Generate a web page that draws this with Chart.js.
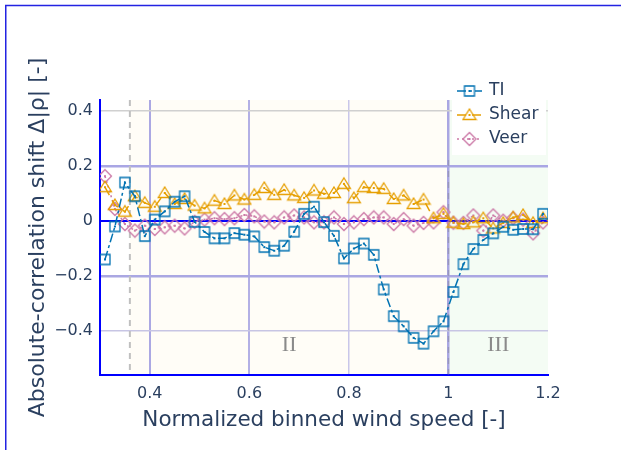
<!DOCTYPE html>
<html>
<head>
<meta charset="utf-8">
<script src="https://cdn.jsdelivr.net/npm/chart.js@4"></script>
<style>
	body { margin: 0; background: #fff; }
	#wrap { position: relative; width: 621px; height: 450px; overflow: hidden; }
</style>
</head>
<body>
<div id="wrap">
	<canvas id="chart" width="621" height="450"></canvas>
</div>
<script>
const xBins = [0.31, 0.33, 0.35, 0.37, 0.39, 0.41, 0.43, 0.45, 0.47, 0.49,
	0.51, 0.53, 0.55, 0.57, 0.59, 0.61, 0.63, 0.65, 0.67, 0.69,
	0.71, 0.73, 0.75, 0.77, 0.79, 0.81, 0.83, 0.85, 0.87, 0.89,
	0.91, 0.93, 0.95, 0.97, 0.99, 1.01, 1.03, 1.05, 1.07, 1.09,
	1.11, 1.13, 1.15, 1.17, 1.19];
const ti = [-0.14, -0.02, 0.14, 0.09, -0.055, 0.005, 0.035, 0.07, 0.09, -0.003,
	-0.04, -0.063, -0.063, -0.044, -0.05, -0.056, -0.095, -0.108, -0.09, -0.039,
	0.026, 0.052, -0.004, -0.054, -0.136, -0.1, -0.082, -0.123, -0.249, -0.346,
	-0.383, -0.425, -0.446, -0.401, -0.365, -0.258, -0.157, -0.102, -0.069, -0.045,
	-0.021, -0.032, -0.029, -0.03, 0.026];
const shear = [0.123, 0.058, 0.034, 0.09, 0.066, 0.052, 0.102, 0.062, 0.08, 0.056,
	0.046, 0.074, 0.062, 0.093, 0.078, 0.095, 0.12, 0.095, 0.113, 0.093,
	0.084, 0.111, 0.099, 0.102, 0.135, 0.083, 0.123, 0.12, 0.117, 0.08,
	0.093, 0.062, 0.078, 0.01, 0.026, -0.006, -0.011, -0.005, 0.01, -0.027,
	-0.007, 0.013, 0.022, -0.007, 0.01];
const veer = [0.163, 0.044, -0.011, -0.035, -0.017, -0.029, -0.023, -0.017, -0.027, -0.003,
	0.005, 0.01, 0.007, 0.01, 0.022, 0.017, -0.002, -0.005, 0.013, 0.02,
	0.013, -0.005, -0.005, 0.013, -0.011, -0.005, 0.007, 0.013, 0.013, -0.011,
	0.007, -0.017, -0.007, -0.005, 0.032, -0.006, -0.007, 0.02, -0.035, 0.02,
	0.001, 0.01, 0.005, -0.045, -0.005];
const xTicks = [0.4, 0.6, 0.8, 1, 1.2];
const yTicks = [-0.4, -0.2, 0, 0.2, 0.4];
const regionII = [0.36, 1.0];
const regionIII = [1.0, 1.2];

const FONT = "'DejaVu Sans', Verdana, sans-serif";
const TXT = "#2a3f5f";

// open marker with a centre dot
function marker(shape, color) {
	const s = 16, m = s / 2;
	const c = document.createElement("canvas");
	c.width = s; c.height = s;
	const g = c.getContext("2d");
	g.strokeStyle = color;
	g.lineWidth = 1.3;
	g.beginPath();
	if (shape == "square") g.rect(m - 5, m - 5, 10, 10);
	if (shape == "triangle") { g.moveTo(m, m - 6); g.lineTo(m + 6.5, m + 4.5); g.lineTo(m - 6.5, m + 4.5); g.closePath(); }
	if (shape == "diamond") { g.moveTo(m, m - 6.5); g.lineTo(m + 6.5, m); g.lineTo(m, m + 6.5); g.lineTo(m - 6.5, m); g.closePath(); }
	g.stroke();
	g.fillStyle = color;
	g.fillRect(m - 1, m - 1, 2, 2);
	return c;
}

function series(label, values, color, dash, shape) {
	return {
		label: label,
		data: xBins.map((x, i) => ({x: x, y: values[i]})),
		borderColor: color,
		backgroundColor: color,
		borderWidth: 1.5,
		borderDash: dash,
		pointStyle: marker(shape, color),
		showLine: true
	};
}

const xGrid = {0.4: ["#aba8e3", 2], 0.6: ["#b3b0e5", 2], 0.8: ["#c9c7ea", 1.5], 1: ["#a9a6e2", 2.5], 1.2: ["rgba(0,0,0,0)", 0]};
const yGrid = {0.4: ["#d0d0d0", 1.5], 0.2: ["#a9a6e4", 2.5], 0: ["#0000ff", 2], "-0.2": ["#aaa7e2", 2.5], "-0.4": ["#c7c5e4", 1.5]};

const regions = {
	id: "regions",
	beforeDraw(chart) {
		const {ctx, chartArea: a, scales: {x}} = chart;
		ctx.save();
		// outer frame
		ctx.strokeStyle = "#2323e2";
		ctx.lineWidth = 1.5;
		ctx.beginPath(); ctx.moveTo(5.75, chart.height); ctx.lineTo(5.75, 5.5); ctx.lineTo(chart.width, 5.5); ctx.stroke();
		ctx.fillStyle = "#fffdf7";
		ctx.fillRect(x.getPixelForValue(regionII[0]), a.top, x.getPixelForValue(regionII[1]) - x.getPixelForValue(regionII[0]), a.height);
		ctx.fillStyle = "#f4fcf4";
		ctx.fillRect(x.getPixelForValue(regionIII[0]), a.top, x.getPixelForValue(regionIII[1]) - x.getPixelForValue(regionIII[0]), a.height);
		ctx.restore();
	},
	beforeDatasetsDraw(chart) {
		const {ctx, chartArea: a, scales: {x, y}} = chart;
		ctx.save();
		ctx.setLineDash([6, 5]);
		ctx.lineWidth = 2;
		ctx.strokeStyle = "#c0c0c0";
		let px = x.getPixelForValue(regionII[0]);
		ctx.beginPath(); ctx.moveTo(px, a.top); ctx.lineTo(px, a.bottom); ctx.stroke();
		ctx.strokeStyle = "rgba(120,120,120,0.35)";
		ctx.lineWidth = 1.5;
		px = x.getPixelForValue(regionIII[0]);
		ctx.beginPath(); ctx.moveTo(px, a.top + 60); ctx.lineTo(px, a.bottom); ctx.stroke();
		ctx.setLineDash([]);
		ctx.fillStyle = "#8a8a8a";
		ctx.font = "22px 'Liberation Serif', serif";
		ctx.textAlign = "center";
		ctx.textBaseline = "middle";
		ctx.fillText("II", x.getPixelForValue((regionII[0] + regionII[1]) / 2), y.getPixelForValue(-0.45));
		ctx.fillText("III", x.getPixelForValue((regionIII[0] + regionIII[1]) / 2), y.getPixelForValue(-0.45));
		ctx.restore();
	},
	afterDraw(chart) {
		const {ctx, chartArea: a} = chart;
		const x0 = a.right - 91, y0 = a.top - 9;
		ctx.save();
		ctx.fillStyle = "#fff";
		ctx.fillRect(a.right - 96, a.top - 20, 94, 75);
		chart.data.datasets.forEach((ds, i) => {
			const yy = y0 + i * 24;
			ctx.strokeStyle = ds.borderColor;
			ctx.lineWidth = ds.borderWidth;
			ctx.setLineDash(ds.borderDash);
			ctx.beginPath(); ctx.moveTo(x0, yy); ctx.lineTo(x0 + 25, yy); ctx.stroke();
			ctx.setLineDash([]);
			const img = ds.pointStyle;
			ctx.drawImage(img, x0 + 12.5 - img.width / 2, yy - img.height / 2);
			ctx.fillStyle = TXT;
			ctx.font = "17px " + FONT;
			ctx.textBaseline = "middle";
			ctx.fillText(ds.label, x0 + 32, yy);
		});
		ctx.restore();
	}
};

let ctx = document.getElementById("chart");
const config = {
	type: "scatter",
	data: {
		datasets: [
			series("TI", ti, "#0072b2", [9, 3, 3, 3], "square"),
			series("Shear", shear, "#e69f00", [9, 6], "triangle"),
			series("Veer", veer, "#cc79a7", [2, 3], "diamond")
		]
	},
	plugins: [regions],
	options: {
		responsive: false,
		animation: false,
		layout: { padding: { left: 25, right: 73, top: 100, bottom: 0 } },
		plugins: { legend: { display: false }, tooltip: { enabled: false } },
		scales: {
			x: {
				type: "linear",
				min: 0.3,
				max: 1.2,
				afterBuildTicks: s => { s.ticks = xTicks.map(v => ({value: v})); },
				afterFit: s => { s.height = 75; },
				grid: {
					drawTicks: false,
					color: c => (xGrid[c.tick.value] || ["#ccc"])[0],
					lineWidth: c => (xGrid[c.tick.value] || [0, 1])[1]
				},
				border: { color: "#0000ff", width: 2 },
				ticks: {
					padding: 9,
					color: TXT,
					font: { family: FONT, size: 16 },
					callback: v => String(v)
				},
				title: {
					display: true,
					text: "Normalized binned wind speed [-]",
					color: TXT,
					font: { family: FONT, size: 21.5 },
					padding: { top: 0, bottom: 17 }
				}
			},
			y: {
				min: -0.56,
				max: 0.44,
				afterBuildTicks: s => { s.ticks = yTicks.map(v => ({value: v})); },
				afterFit: s => { s.width = 75; },
				grid: {
					drawTicks: false,
					color: c => (yGrid[c.tick.value] || ["#ccc"])[0],
					lineWidth: c => (yGrid[c.tick.value] || [0, 1])[1]
				},
				border: { color: "#0000ff", width: 2 },
				ticks: {
					padding: 7,
					color: TXT,
					font: { family: FONT, size: 16 },
					callback: v => String(v).replace("-", "\u2212")
				},
				title: {
					display: true,
					text: "Absolute-correlation shift \u0394|\u03c1| [-]",
					color: TXT,
					font: { family: FONT, size: 22 },
					padding: { top: 0, bottom: 0 }
				}
			}
		},
		elements: { point: { radius: 5 } }
	}
};
let chart = new Chart(ctx, config);
</script>
</body>
</html>
